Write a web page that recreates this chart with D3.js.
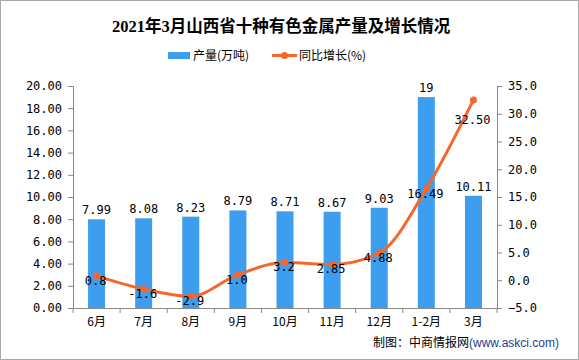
<!DOCTYPE html>
<html><head><meta charset="utf-8">
<script src="https://cdn.jsdelivr.net/npm/d3@7"></script>
<style>body{margin:0;background:#fff}svg{display:block}</style>
</head><body><svg id="c" width="579" height="360"></svg>
<script>
const categories = ["6月","7月","8月","9月","10月","11月","12月","1-2月","3月"];
const output = [7.99,8.08,8.23,8.79,8.71,8.67,9.03,19,10.11];
const outputLabels = ["7.99","8.08","8.23","8.79","8.71","8.67","9.03","19","10.11"];
const growth = [0.8,-1.6,-2.9,1.0,3.2,2.85,4.88,16.49,32.5];
const growthLabels = ["0.8","-1.6","-2.9","1.0","3.2","2.85","4.88","16.49","32.50"];
const leftTicks = [0,2,4,6,8,10,12,14,16,18,20];
const rightTicks = [-5,0,5,10,15,20,25,30,35];

const svg = d3.select("#c");
const W=579,H=360, L=73, R=497, T=86, B=308;
const mono = "'DejaVu Sans Mono', monospace";
const cjk = "'Noto Sans CJK SC', sans-serif";

svg.append("rect").attr("x",0.5).attr("y",0.5).attr("width",W-1).attr("height",H-1)
  .attr("fill","#fff").attr("stroke","#aaa");

const x = d3.scaleBand().domain(categories).range([L,R]);
const yL = d3.scaleLinear().domain([0,20]).range([B,T]);
const yR = d3.scaleLinear().domain([-5,35]).range([B,T]);

// title
svg.append("text").attr("x",281).attr("y",32).attr("text-anchor","middle")
  .attr("font-family","'Liberation Serif','Noto Sans CJK SC',serif").attr("font-weight","bold")
  .attr("font-size",16.5).attr("fill","#000").text("2021年3月山西省十种有色金属产量及增长情况");

// legend
const lg = svg.append("g");
lg.append("rect").attr("x",168).attr("y",52).attr("width",22).attr("height",7).attr("fill","#3d9ef0");
lg.append("text").attr("x",193).attr("y",60).attr("font-family",cjk).attr("font-size",12).text("产量(万吨)");
lg.append("line").attr("x1",272).attr("x2",297).attr("y1",55.5).attr("y2",55.5).attr("stroke","#f7672b").attr("stroke-width",3);
lg.append("circle").attr("cx",284.5).attr("cy",55.5).attr("r",3.5).attr("fill","#f7672b");
lg.append("text").attr("x",299).attr("y",60).attr("font-family",cjk).attr("font-size",12).text("同比增长(%)");

// axes
const axL = svg.append("g").attr("transform",`translate(${L},0)`)
  .call(d3.axisLeft(yL).tickValues(leftTicks).tickFormat(d3.format(".2f")).tickSizeOuter(0).tickSize(5).tickPadding(6));
const axR = svg.append("g").attr("transform",`translate(${R},0)`)
  .call(d3.axisRight(yR).tickValues(rightTicks).tickFormat(d3.format(".1f")).tickSizeOuter(0).tickSize(5).tickPadding(6));
const axX = svg.append("g").attr("transform",`translate(0,${B})`)
  .call(d3.axisBottom(x).tickSize(0).tickPadding(9));
[axL,axR,axX].forEach(a=>{
  a.selectAll("path.domain").attr("stroke","#888");
  a.selectAll("line").attr("stroke","#888");
  a.selectAll("text").attr("fill","#000").attr("font-size",12);
});
axL.selectAll("text").attr("font-family",mono);
axR.selectAll("text").attr("font-family",mono);
axX.selectAll("text").attr("font-family",cjk);
// x tick marks at band boundaries
const bounds = categories.map(c=>x(c)).concat([R]);
svg.append("g").selectAll("line").data(bounds).join("line")
  .attr("x1",d=>d).attr("x2",d=>d).attr("y1",B).attr("y2",B+5).attr("stroke","#888");

// bars
const bw = 17;
svg.append("g").selectAll("rect").data(output).join("rect")
  .attr("x",(d,i)=>x(categories[i])+x.bandwidth()/2-bw/2)
  .attr("width",bw)
  .attr("y",d=>yL(d)).attr("height",d=>B-yL(d))
  .attr("fill","#3d9ef0");

// line
const pts = growth.map((g,i)=>[x(categories[i])+x.bandwidth()/2, yR(g)]);
svg.append("path").attr("d",d3.line().curve(d3.curveMonotoneX)(pts))
  .attr("fill","none").attr("stroke","#f7672b").attr("stroke-width",3);
svg.append("g").selectAll("circle").data(pts).join("circle")
  .attr("cx",d=>d[0]).attr("cy",d=>d[1]).attr("r",3.5).attr("fill","#f7672b");

// bar labels
svg.append("g").selectAll("text").data(output).join("text")
  .attr("x",(d,i)=>x(categories[i])+x.bandwidth()/2)
  .attr("y",d=>yL(d)-5)
  .attr("text-anchor","middle").attr("font-family",mono).attr("font-size",12).attr("fill","#000")
  .text((d,i)=>outputLabels[i]);

// line labels
svg.append("g").selectAll("text").data(pts).join("text")
  .attr("x",d=>d[0]-1)
  .attr("y",(d,i)=>d[1]+(i===pts.length-1?24:9))
  .attr("text-anchor","middle").attr("font-family",mono).attr("font-size",12).attr("fill","#000")
  .text((d,i)=>growthLabels[i]);

// footer
const ft = svg.append("text").attr("x",373).attr("y",347).attr("font-size",12);
ft.append("tspan").attr("font-family",cjk).attr("fill","#000").text("制图：中商情报网");
ft.append("tspan").attr("font-family","'Liberation Sans',sans-serif").attr("fill","#1f3c88").text("(www.askci.com)");
</script></body></html>
